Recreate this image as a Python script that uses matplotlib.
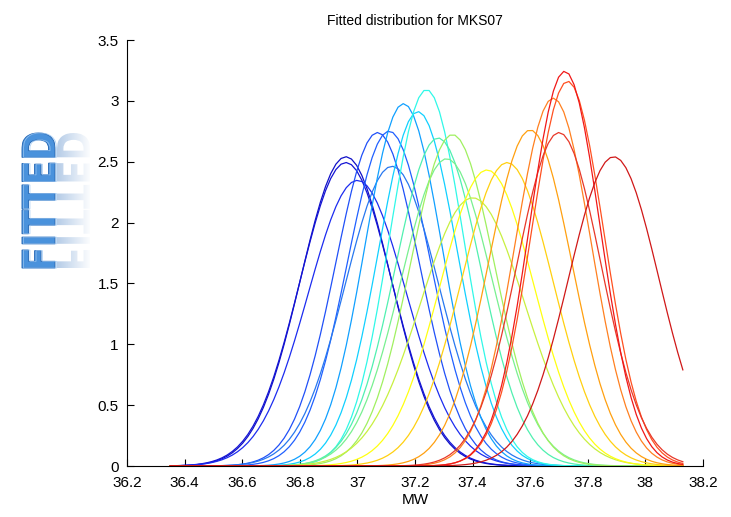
import numpy as np
import matplotlib
matplotlib.use("Agg")
import matplotlib.pyplot as plt
from matplotlib.ticker import FuncFormatter
from matplotlib.textpath import TextPath
from matplotlib.patches import PathPatch
from matplotlib.font_manager import FontProperties
from matplotlib.transforms import Affine2D, IdentityTransform

plt.rcParams["font.family"] = ["Liberation Sans", "DejaVu Sans"]

# fitted normal parameters for each sample (mean MW, std), read from the peaks
means = [36.96, 36.96, 37.00, 37.07, 37.11, 37.12, 37.16, 37.21, 37.24, 37.28, 37.31,
         37.33, 37.40, 37.45, 37.52, 37.60, 37.68, 37.73, 37.70, 37.72, 37.89]
sigmas = [0.157, 0.160, 0.170, 0.1456, 0.145, 0.162, 0.134, 0.137, 0.129, 0.148, 0.158,
          0.1465, 0.181, 0.164, 0.160, 0.1445, 0.132, 0.1262, 0.1456, 0.123, 0.157]
colors = ["#1010c8", "#1414d4", "#1c2cf0", "#2050f8", "#2060ff", "#2878f0", "#10a0ff",
          "#10d0ff", "#30f8e8", "#50f0b0", "#78f090", "#a0f060", "#c8f040", "#ffff10",
          "#ffd010", "#ffa010", "#ff8020", "#ff5020", "#e83828", "#f01818", "#d01818"]
mw_grid = np.linspace(36.35, 38.13, 100)

fig = plt.figure(figsize=(7.31, 5.17), dpi=100)
ax = fig.add_axes([127/731, 1 - 466/517, 576/731, 426/517])

for mu, sd, c in zip(means, sigmas, colors):
    pdf = np.exp(-0.5 * ((mw_grid - mu) / sd) ** 2) / (sd * np.sqrt(2 * np.pi))
    ax.plot(mw_grid, pdf, color=c, lw=0.9)

ax.set_xlim(36.2, 38.2)
ax.set_ylim(0, 3.5)
ax.set_xticks(np.arange(36.2, 38.21, 0.2))
ax.set_yticks(np.arange(0, 3.51, 0.5))
ax.xaxis.set_major_formatter(FuncFormatter(lambda v, p: f"{round(v, 1):g}"))
ax.yaxis.set_major_formatter(FuncFormatter(lambda v, p: f"{round(v, 1):g}"))
ax.tick_params(direction="in", length=5, labelsize=11, width=0.8)
ax.tick_params(axis="x", pad=7)
ax.tick_params(axis="y", pad=6)
for s in ["top", "right"]:
    ax.spines[s].set_visible(False)
for s in ["left", "bottom"]:
    ax.spines[s].set_linewidth(0.8)
ax.set_xlabel("MW", fontsize=11, labelpad=2)
ax.set_title("Fitted distribution for MKS07", fontsize=10, pad=11)

# "FITTED" logo with faded mirror reflection
fp = FontProperties(family="DejaVu Sans", weight="bold")
tp = TextPath((0, 0), "FITTED", size=40, prop=fp)
bb = tp.get_extents()
L, H = 135.0, 33.0
base = Affine2D().translate(-bb.x0, -bb.y0).scale(L / bb.width, H / bb.height).rotate_deg(90)
x0, y0 = 22, 517 - 268
main = base + Affine2D().translate(x0 + H, y0)
refl = base + Affine2D().scale(-1, 1).translate(x0 + H + 2, y0)

p_main = PathPatch(tp, transform=main, facecolor="#4a92dc", edgecolor="#2a6cb8",
                   lw=0.7, figure=fig)
fig.patches.append(p_main)
p_hi = PathPatch(tp, transform=main + Affine2D().translate(1.5, 0), facecolor="none",
                 edgecolor="#9cc8f4", lw=0.6, alpha=0.8, figure=fig)
fig.patches.append(p_hi)

# reflection: clip a horizontal fade to the mirrored glyphs
p_ref = PathPatch(tp, transform=refl, facecolor="none", edgecolor="none", figure=fig)
fig.patches.append(p_ref)
w = int(H) + 2
fade = np.zeros((int(L) + 4, w, 4))
fade[..., :3] = np.array([0.62, 0.74, 0.88])
fade[..., 3] = np.linspace(0.75, 0.0, w)[None, :]
im = fig.figimage(fade, xo=x0 + H + 2, yo=y0 - 2, origin="lower")
im.set_clip_path(p_ref)

fig.savefig("out.png", dpi=100)
